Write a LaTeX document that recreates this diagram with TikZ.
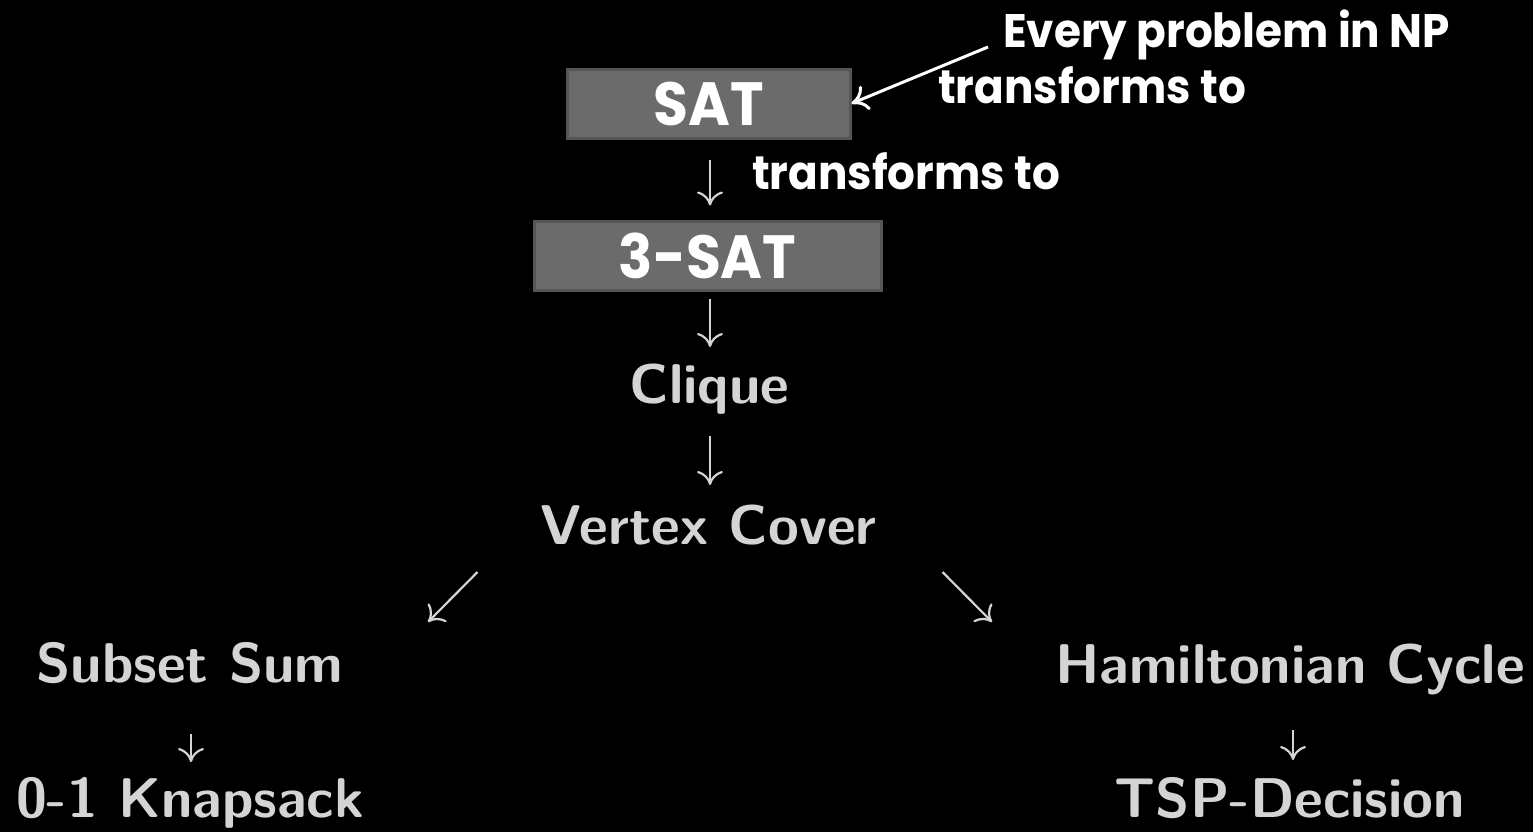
\documentclass[tikz,border=0pt]{standalone}
\usepackage{fontspec}
\usetikzlibrary{arrows.meta,calc}
\newfontfamily\gothic{Poppins}[FakeStretch=0.93]
\definecolor{boxfill}{HTML}{6B6B6B}
\definecolor{boxline}{HTML}{555555}
\definecolor{lbl}{HTML}{D4D4D4}
\tikzset{
  probbox/.style={draw=boxline, line width=3bp, fill=boxfill, text=white, inner sep=0pt,
    font=\gothic\bfseries\fontsize{61bp}{70bp}\selectfont},
  note/.style={text=white, inner sep=0pt, anchor=base west,
    font=\gothic\bfseries\fontsize{47bp}{56bp}\selectfont},
  prob/.style={text=lbl, inner sep=0pt, anchor=base,
    font=\sffamily\bfseries\fontsize{56bp}{64bp}\selectfont},
  redarrow/.style={draw=lbl, line width=2.2bp, -{Computer Modern Rightarrow[length=14bp,width=26bp]}},
  notearrow/.style={draw=white, line width=3bp, -{Computer Modern Rightarrow[length=16bp,width=26bp]}}
}
\begin{document}
\begin{tikzpicture}[x=1bp,y=-1bp]
\path[fill=black] (0,0) rectangle (1533,832);
\useasboundingbox (0,0) rectangle (1533,832);

\node[probbox, minimum width=283bp, minimum height=69bp] (sat) at (708.5,103.5) {SAT};
\node[probbox, minimum width=347bp, minimum height=69bp] (sat3) at (707.5,255.5) {3-SAT};

\node[note] (np1) at (1003,47) {Every problem in NP};
\node[note] (np2) at (938,103) {transforms to};
\node[note] (tr) at (752,189) {transforms to};

\node[prob] (clique) at (709.5,403) {Clique};
\node[prob] (vc) at (708.5,544) {Vertex Cover};
\node[prob] (ss) at (190,682) {Subset Sum};
\node[prob] (ks) at (190,817) {0-1 Knapsack};
\node[prob] (hc) at (1290,683) {Hamiltonian Cycle};
\node[prob] (tsp) at (1290,817) {TSP-Decision};

\draw[notearrow] ([xshift=-15bp]np1.base west) -- (sat.east);

\draw[redarrow] ($(sat.south)+(1.5,20)$) -- ($(sat3.north)+(2.5,-14)$);
\draw[redarrow] ($(sat3.south)+(2.5,7)$) -- ($(clique.base)+(0.5,-56)$);
\draw[redarrow] ($(clique.base)+(0.5,33)$) -- ($(vc.base)+(1.5,-59)$);
\draw[redarrow] ($(vc.base)+(-231,28)$) -- ($(ss.base)+(238,-60)$);
\draw[redarrow] ($(vc.base)+(234,28)$) -- ($(hc.base)+(-298,-61)$);
\draw[redarrow] ($(ss.base)+(1,52)$) -- ($(ks.base)+(1,-55)$);
\draw[redarrow] ($(hc.base)+(3,47)$) -- ($(tsp.base)+(3,-57)$);
\end{tikzpicture}
\end{document}
